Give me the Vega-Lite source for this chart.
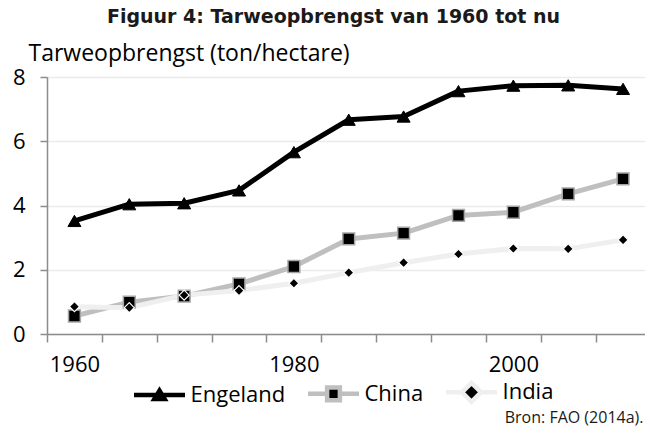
{
  "$schema": "https://vega.github.io/schema/vega-lite/v6.json",
  "autosize": {"type": "none"},
  "padding": {"left": 47, "top": 77, "right": 0, "bottom": 94},
  "width": 598,
  "height": 257,
  "background": "white",
  "config": {
    "view": {"stroke": null},
    "font": "Open Sans",
    "axis": {"labelFont": "Open Sans", "titleFont": "Open Sans", "labelColor": "#000", "titleColor": "#000"},
    "legend": {
      "orient": "none",
      "legendX": 84.5,
      "legendY": 287,
      "direction": "horizontal",
      "padding": 0,
      "columnPadding": 13,
      "labelOffset": 3,
      "labelFont": "Open Sans",
      "labelFontSize": 22,
      "labelColor": "#000",
      "labelLimit": 0,
      "symbolSize": 2601,
      "symbolStrokeWidth": 4.5,
      "symbolOpacity": 1,
      "symbolFillColor": "#000000"
    }
  },
  "title": {
    "text": "Figuur 4: Tarweopbrengst van 1960 tot nu",
    "font": "DejaVu Sans",
    "fontSize": 19,
    "fontWeight": "bold",
    "color": "#1a1a1a",
    "anchor": "middle",
    "frame": "group",
    "dx": -12.5,
    "offset": 15
  },
  "data": {
    "values": [
      {"land": "Engeland", "jaar": 1960, "opbrengst": 3.52},
      {"land": "Engeland", "jaar": 1965, "opbrengst": 4.04},
      {"land": "Engeland", "jaar": 1970, "opbrengst": 4.07},
      {"land": "Engeland", "jaar": 1975, "opbrengst": 4.47},
      {"land": "Engeland", "jaar": 1980, "opbrengst": 5.66},
      {"land": "Engeland", "jaar": 1985, "opbrengst": 6.67},
      {"land": "Engeland", "jaar": 1990, "opbrengst": 6.77},
      {"land": "Engeland", "jaar": 1995, "opbrengst": 7.56},
      {"land": "Engeland", "jaar": 2000, "opbrengst": 7.73},
      {"land": "Engeland", "jaar": 2005, "opbrengst": 7.74},
      {"land": "Engeland", "jaar": 2010, "opbrengst": 7.63},
      {"land": "China", "jaar": 1960, "opbrengst": 0.56},
      {"land": "China", "jaar": 1965, "opbrengst": 0.99},
      {"land": "China", "jaar": 1970, "opbrengst": 1.18},
      {"land": "China", "jaar": 1975, "opbrengst": 1.56},
      {"land": "China", "jaar": 1980, "opbrengst": 2.1},
      {"land": "China", "jaar": 1985, "opbrengst": 2.96},
      {"land": "China", "jaar": 1990, "opbrengst": 3.14},
      {"land": "China", "jaar": 1995, "opbrengst": 3.69},
      {"land": "China", "jaar": 2000, "opbrengst": 3.79},
      {"land": "China", "jaar": 2005, "opbrengst": 4.36},
      {"land": "China", "jaar": 2010, "opbrengst": 4.83},
      {"land": "India", "jaar": 1960, "opbrengst": 0.85},
      {"land": "India", "jaar": 1965, "opbrengst": 0.82},
      {"land": "India", "jaar": 1970, "opbrengst": 1.21},
      {"land": "India", "jaar": 1975, "opbrengst": 1.35},
      {"land": "India", "jaar": 1980, "opbrengst": 1.58},
      {"land": "India", "jaar": 1985, "opbrengst": 1.91},
      {"land": "India", "jaar": 1990, "opbrengst": 2.22},
      {"land": "India", "jaar": 1995, "opbrengst": 2.49},
      {"land": "India", "jaar": 2000, "opbrengst": 2.66},
      {"land": "India", "jaar": 2005, "opbrengst": 2.65},
      {"land": "India", "jaar": 2010, "opbrengst": 2.93}
    ]
  },
  "encoding": {
    "x": {
      "field": "jaar",
      "type": "quantitative",
      "scale": {"domain": [1957.5, 2012], "nice": false, "zero": false},
      "axis": {
        "values": [1957.5, 1962.5, 1967.5, 1972.5, 1977.5, 1982.5, 1987.5, 1992.5, 1997.5, 2002.5, 2007.5],
        "labelExpr": "datum.value == 1957.5 ? '1960' : datum.value == 1977.5 ? '1980' : datum.value == 1997.5 ? '2000' : ''",
        "labelOffset": 27.4,
        "labelOverlap": false,
        "labelFlush": false,
        "labelBound": false,
        "labelFontSize": 22,
        "labelPadding": 12,
        "grid": false,
        "tickSize": 8,
        "tickWidth": 1.5,
        "tickColor": "#8c8c8c",
        "domainColor": "#8c8c8c",
        "domainWidth": 1.5,
        "title": "Bron: FAO (2014a).",
        "titleFontSize": 16,
        "titleFontWeight": "normal",
        "titleColor": "#1a1a1a",
        "titleAlign": "right",
        "titleAnchor": "end",
        "titleBaseline": "alphabetic",
        "titleX": 596,
        "titleY": 88
      }
    },
    "y": {
      "field": "opbrengst",
      "type": "quantitative",
      "scale": {"domain": [0, 8], "nice": false},
      "axis": {
        "values": [0, 2, 4, 6, 8],
        "labelFontSize": 22,
        "labelPadding": 15,
        "tickSize": 7,
        "tickWidth": 1.5,
        "tickColor": "#8c8c8c",
        "domainColor": "#8c8c8c",
        "domainWidth": 1.5,
        "grid": true,
        "gridColor": "#ebebeb",
        "gridWidth": 1.5,
        "title": "Tarweopbrengst (ton/hectare)",
        "titleAngle": 0,
        "titleAlign": "left",
        "titleBaseline": "alphabetic",
        "titleX": -19,
        "titleY": -17,
        "titleFontSize": 23,
        "titleFontWeight": "normal"
      }
    }
  },
  "layer": [
    {
      "mark": {"type": "point", "filled": true, "fill": "#000000", "opacity": 0, "strokeWidth": 4.5},
      "encoding": {
        "shape": {
          "field": "land",
          "type": "nominal",
          "scale": {
            "domain": ["Engeland", "China", "India"],
            "range": [
              "M-1,0L1,0M0,-0.17L0.2,0.16L-0.2,0.16Z",
              "M-1,0L-0.25,0M0.25,0L1,0M-0.25,-0.25L0.25,-0.25L0.25,0.25L-0.25,0.25Z",
              "M-1,0L-0.37,0M0.37,0L1,0M0,-0.37L0.37,0L0,0.37L-0.37,0Z"
            ]
          },
          "legend": {"title": null}
        },
        "stroke": {
          "field": "land",
          "type": "nominal",
          "scale": {"domain": ["Engeland", "China", "India"], "range": ["#000000", "#bfbfbf", "#efefef"]},
          "legend": {"title": null}
        }
      }
    },
    {
      "transform": [{"filter": "datum.land === 'Engeland'"}],
      "mark": {"type": "line", "strokeWidth": 5, "strokeJoin": "round", "color": "#000000"}
    },
    {
      "transform": [{"filter": "datum.land === 'China'"}],
      "mark": {"type": "line", "strokeWidth": 5, "strokeJoin": "round", "color": "#bfbfbf"}
    },
    {
      "transform": [{"filter": "datum.land === 'India'"}],
      "mark": {"type": "line", "strokeWidth": 5, "strokeJoin": "round", "color": "#efefef"}
    },
    {
      "transform": [{"filter": "datum.land === 'Engeland'"}],
      "mark": {"type": "point", "shape": "triangle-up", "filled": true, "fill": "#000000", "stroke": "#000000", "strokeWidth": 1, "size": 169, "opacity": 1}
    },
    {
      "transform": [{"filter": "datum.land === 'China'"}],
      "mark": {"type": "point", "shape": "square", "filled": true, "fill": "#000000", "stroke": "#a6a6a6", "strokeWidth": 1.5, "size": 140, "opacity": 1}
    },
    {
      "transform": [{"filter": "datum.land === 'India'"}],
      "mark": {"type": "point", "shape": "diamond", "filled": true, "fill": "#000000", "stroke": "#ffffff", "strokeWidth": 1.2, "size": 100, "opacity": 1}
    }
  ]
}
